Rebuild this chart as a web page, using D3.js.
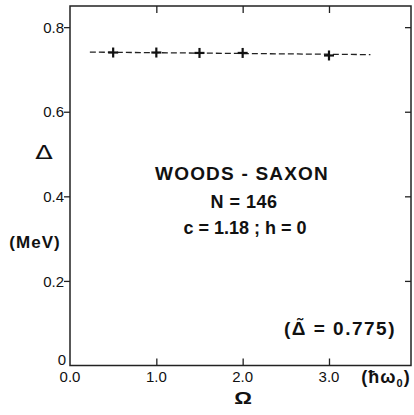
<html>
<head>
<script src="https://d3js.org/d3.v7.min.js"></script>
<style>
body { margin:0; background:#fff; overflow:hidden; }
svg { display:block; }
text { font-family: "Liberation Sans", Arial, sans-serif; fill:#111; }
</style>
</head>
<body>
<div id="chart"></div>
<script>
// data
var omega = [0.5, 1.0, 1.5, 2.0, 3.0];
var gap = [0.740, 0.740, 0.739, 0.739, 0.733];
var lineOmega = [0.23, 3.48];
var lineGap = [0.741, 0.735];
var xTicks = [0, 1, 2, 3];
var xTickLabels = ["0.0", "1.0", "2.0", "3.0"];
var yTicks = [0, 0.2, 0.4, 0.6, 0.8];
var yTickLabels = ["0", "0.2", "0.4", "0.6", "0.8"];

var W = 414, H = 415;
var svg = d3.select("#chart").append("svg").attr("width", W).attr("height", H);

var x = d3.scaleLinear().domain([0, 3.95]).range([70, 411]);
var y = d3.scaleLinear().domain([0, 0.85]).range([365.5, 6]);

// frame
svg.append("rect")
  .attr("x", x(0)).attr("y", y(0.85))
  .attr("width", x(3.95) - x(0)).attr("height", y(0) - y(0.85))
  .attr("fill", "none").attr("stroke", "#222").attr("stroke-width", 1.5);

// left axis, ticks outside
var yl = svg.append("g").attr("transform", "translate(" + x(0) + ",0)")
  .call(d3.axisLeft(y).tickValues(yTicks).tickSize(6)
    .tickFormat(function(d, i) { return yTickLabels[i]; }));
yl.select(".domain").remove();
yl.selectAll("line").attr("stroke", "#222").attr("stroke-width", 1.3)
  .filter(function(d) { return d === 0; }).remove();
yl.selectAll("text").style("font-size", "15px").attr("x", -6).attr("dy", "0.35em").style("fill", "#111")
  .filter(function(d) { return d === 0; }).attr("x", -4).attr("dy", "-0.05em");

// right ticks inside
var yr = svg.append("g").attr("transform", "translate(" + x(3.95) + ",0)")
  .call(d3.axisRight(y).tickValues([0.2, 0.4, 0.6, 0.8]).tickSize(-6).tickFormat(""));
yr.select(".domain").remove();
yr.selectAll("line").attr("stroke", "#222").attr("stroke-width", 1.3);

// bottom ticks inside
var xb = svg.append("g").attr("transform", "translate(0," + y(0) + ")")
  .call(d3.axisBottom(x).tickValues([1, 2, 3]).tickSize(-7).tickFormat(""));
xb.select(".domain").remove();
xb.selectAll("line").attr("stroke", "#222").attr("stroke-width", 1.3);

// top ticks inside
var xt = svg.append("g").attr("transform", "translate(0," + y(0.85) + ")")
  .call(d3.axisTop(x).tickValues([1, 2, 3]).tickSize(-7).tickFormat(""));
xt.select(".domain").remove();
xt.selectAll("line").attr("stroke", "#222").attr("stroke-width", 1.3);

// x tick labels
svg.selectAll(".xlab").data(xTicks).enter().append("text")
  .attr("x", function(d) { return x(d); })
  .attr("y", 382)
  .attr("text-anchor", "middle")
  .style("font-size", "15px")
  .text(function(d, i) { return xTickLabels[i]; });

// dashed line
var line = d3.line().x(function(d) { return x(d[0]); }).y(function(d) { return y(d[1]); });
svg.append("path")
  .datum(d3.zip(lineOmega, lineGap))
  .attr("d", line)
  .attr("fill", "none").attr("stroke", "#222").attr("stroke-width", 1.3)
  .attr("stroke-dasharray", "6,3");

// crosses
var pts = svg.selectAll(".pt").data(d3.zip(omega, gap)).enter().append("g")
  .attr("transform", function(d) { return "translate(" + x(d[0]) + "," + y(d[1]) + ")"; });
pts.append("line").attr("x1", -5).attr("x2", 5).attr("stroke", "#111").attr("stroke-width", 2.2);
pts.append("line").attr("y1", -5).attr("y2", 5).attr("stroke", "#111").attr("stroke-width", 2.2);

// labels
svg.append("text").attr("transform", "translate(44,159) scale(1.35,1)").attr("text-anchor", "middle")
  .style("font-family", "DejaVu Sans").style("font-size", "19px").text("\u0394");
svg.append("text").attr("x", 35).attr("y", 248).attr("text-anchor", "middle")
  .style("font-size", "17px").style("font-weight", "bold").style("letter-spacing", "1px").text("(MeV)");

svg.append("text").attr("x", 242).attr("y", 180).attr("text-anchor", "middle")
  .style("font-size", "19px").style("font-weight", "bold").style("letter-spacing", "1.2px")
  .text("WOODS - SAXON");
svg.append("text").attr("x", 244).attr("y", 208).attr("text-anchor", "middle")
  .style("font-size", "18px").style("font-weight", "bold").style("letter-spacing", "0.5px").text("N = 146");
svg.append("text").attr("x", 245).attr("y", 234).attr("text-anchor", "middle")
  .style("font-size", "18px").style("font-weight", "bold").text("c = 1.18 ; h = 0");

svg.append("text").attr("x", 340).attr("y", 335).attr("text-anchor", "middle")
  .style("font-size", "19px").style("font-weight", "bold").style("letter-spacing", "1.5px")
  .text("(\u0394\u0303 = 0.775)");

svg.append("text").attr("x", 386).attr("y", 383).attr("text-anchor", "middle")
  .style("font-size", "18px").style("font-weight", "bold").style("letter-spacing", "1px")
  .html("(\u0127\u03c9<tspan dy='4' font-size='11px'>0</tspan><tspan dy='-4'>)</tspan>");

svg.append("text").attr("transform", "translate(243,404) scale(1.3,1)").attr("text-anchor", "middle")
  .style("font-size", "17px").style("font-weight", "bold").text("\u03a9");
</script>
</body>
</html>
